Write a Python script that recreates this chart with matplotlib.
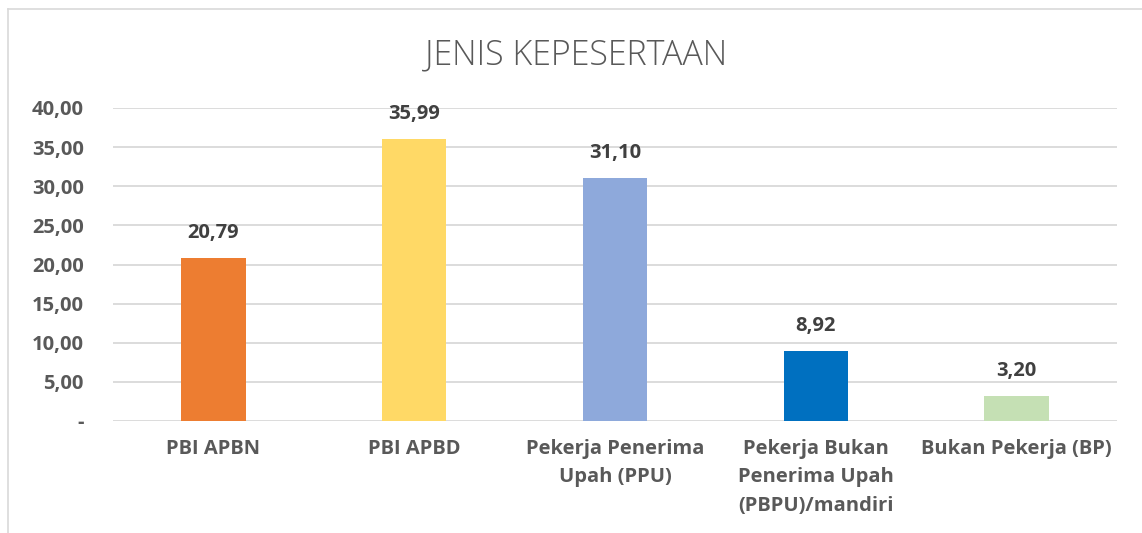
import matplotlib.pyplot as plt
from matplotlib.lines import Line2D

categories = [ 'PBI APBN' , 'PBI APBD' , 'Pekerja Penerima\nUpah (PPU)' ,
	'Pekerja Bukan\nPenerima Upah\n(PBPU)/mandiri' , 'Bukan Pekerja (BP)' ]
values = [ 20.79 , 35.99 , 31.10 , 8.92 , 3.20 ]
colors = [ '#ED7D31' , '#FFD966' , '#8EA9DB' , '#0070C0' , '#C5E0B4' ]
yticks = [ 0 , 5 , 10 , 15 , 20 , 25 , 30 , 35 , 40 ]

def fmt( v ) :
	return '-' if v == 0 else ( '%.2f' % v ).replace( '.' , ',' )

txt = '#595959'
plt.rcParams[ 'font.family' ] = [ 'Open Sans' , 'DejaVu Sans' ]

fig = plt.figure( figsize = ( 11.42 , 5.33 ) , dpi = 100 )
ax = fig.add_axes( [ 113 / 1142 , 1 - 421 / 533 , 1004 / 1142 , 313 / 533 ] )

x = list( range( len( categories ) ) )
ax.bar( x , values , width = 0.32 , color = colors , zorder = 3 )
for xi , v in zip( x , values ) :
	ax.annotate( fmt( v ) , ( xi , v ) , xytext = ( 0 , 18 ) , textcoords = 'offset points' ,
		ha = 'center' , va = 'center' , fontsize = 14.5 , fontweight = 'bold' , color = '#404040' )

ax.set_xlim( -0.5 , len( categories ) - 0.5 )
ax.set_ylim( 0 , 40 )
ax.set_yticks( yticks )
ax.set_yticklabels( [ fmt( v ) for v in yticks ] , fontsize = 14.5 , fontweight = 'bold' , color = txt )
ax.set_xticks( x )
ax.set_xticklabels( categories , fontsize = 14.5 , fontweight = 'bold' , color = txt , linespacing = 1.56 , va = 'top' )
ax.tick_params( axis = 'both' , length = 0 )
ax.tick_params( axis = 'y' , pad = 21 )
ax.tick_params( axis = 'x' , pad = 13 )
ax.grid( axis = 'y' , color = '#d9d9d9' , linewidth = 1.3 , zorder = 0 )
for s in ax.spines.values() :
	s.set_visible( False )

fig.text( 576 / 1142 , 1 - 55 / 533 , 'JENIS KEPESERTAAN' , ha = 'center' , va = 'center' ,
	fontsize = 24.5 , fontweight = 'light' , color = txt )

# chart border (bottom and right cut off in the original)
fig.add_artist( Line2D( [ 7.5 / 1142 , 7.5 / 1142 ] , [ 0 , 1 - 9 / 533 ] , transform = fig.transFigure , color = '#d9d9d9' , linewidth = 1.2 ) )
fig.add_artist( Line2D( [ 7.5 / 1142 , 1 ] , [ 1 - 9 / 533 , 1 - 9 / 533 ] , transform = fig.transFigure , color = '#d9d9d9' , linewidth = 1.2 ) )

fig.savefig( 'out.png' , dpi = 100 )
